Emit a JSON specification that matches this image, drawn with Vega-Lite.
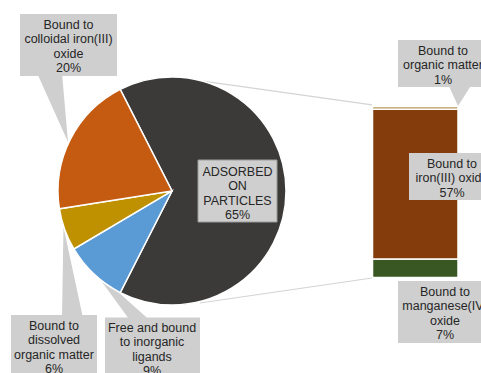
{
  "$schema": "https://vega.github.io/schema/vega-lite/v6.json",
  "width": 481,
  "height": 373,
  "autosize": {"type": "none"},
  "padding": 0,
  "background": "white",
  "config": {"view": {"stroke": null}, "axis": {"disable": true}, "legend": {"disable": true}},
  "data": {
    "values": [
      {"group": "pie", "category": "ADSORBED ON PARTICLES", "value": 65, "ord": 1},
      {"group": "pie", "category": "Free and bound to inorganic ligands", "value": 9, "ord": 2},
      {"group": "pie", "category": "Bound to dissolved organic matter", "value": 6, "ord": 3},
      {"group": "pie", "category": "Bound to colloidal iron(III) oxide", "value": 20, "ord": 4},
      {"group": "bar", "category": "Bound to manganese(IV) oxide", "value": 7, "ord": 1},
      {"group": "bar", "category": "Bound to iron(III) oxide", "value": 57, "ord": 2},
      {"group": "bar", "category": "Bound to organic matter", "value": 1, "ord": 3}
    ]
  },
  "layer": [
    {
      "data": {"values": [{}]},
      "mark": {"type": "rule", "stroke": "#d4d4d4", "strokeWidth": 1.2},
      "encoding": {
        "x": {"datum": 20.3, "scale": {"domain": [0, 48.1], "nice": false, "zero": false}},
        "y": {"datum": 74.7, "scale": {"domain": [-36.31, 105.51], "nice": false, "zero": false}},
        "x2": {"datum": 37.2},
        "y2": {"datum": 65.6}
      }
    },
    {
      "data": {"values": [{}]},
      "mark": {"type": "rule", "stroke": "#d4d4d4", "strokeWidth": 1.2},
      "encoding": {
        "x": {"datum": 20.0, "scale": {"domain": [0, 48.1], "nice": false, "zero": false}},
        "y": {"datum": -9.7, "scale": {"domain": [-36.31, 105.51], "nice": false, "zero": false}},
        "x2": {"datum": 37.2},
        "y2": {"datum": -0.2}
      }
    },
    {
      "data": {"values": [{}]},
      "mark": {"type": "point", "filled": true, "fill": "#cfcfcf", "strokeWidth": 0, "opacity": 1, "size": 4, "shape": "M-12.5,-3 L12.5,-3 L18.5,66 Z"},
      "encoding": {
        "x": {"datum": 4.95, "scale": {"domain": [0, 48.1], "nice": false, "zero": false}},
        "y": {"datum": 76.62, "scale": {"domain": [-36.31, 105.51], "nice": false, "zero": false}}
      }
    },
    {
      "data": {"values": [{}]},
      "mark": {"type": "point", "filled": true, "fill": "#cfcfcf", "strokeWidth": 0, "opacity": 1, "size": 4, "shape": "M-10.5,3 L10.5,3 L-9,-88 Z"},
      "encoding": {
        "x": {"datum": 7.25, "scale": {"domain": [0, 48.1], "nice": false, "zero": false}},
        "y": {"datum": -14.26, "scale": {"domain": [-36.31, 105.51], "nice": false, "zero": false}}
      }
    },
    {
      "data": {"values": [{}]},
      "mark": {"type": "point", "filled": true, "fill": "#cfcfcf", "strokeWidth": 0, "opacity": 1, "size": 4, "shape": "M-10,3 L10,3 L-47,-48 Z"},
      "encoding": {
        "x": {"datum": 14.0, "scale": {"domain": [0, 48.1], "nice": false, "zero": false}},
        "y": {"datum": -15.21, "scale": {"domain": [-36.31, 105.51], "nice": false, "zero": false}}
      }
    },
    {
      "data": {"values": [{}]},
      "mark": {"type": "point", "filled": true, "fill": "#cfcfcf", "strokeWidth": 0, "opacity": 1, "size": 4, "shape": "M-12,-3 L12,-3 L-2,19 Z"},
      "encoding": {
        "x": {"datum": 46.0, "scale": {"domain": [0, 48.1], "nice": false, "zero": false}},
        "y": {"datum": 72.43, "scale": {"domain": [-36.31, 105.51], "nice": false, "zero": false}}
      }
    },
    {
      "transform": [{"filter": "datum.group === 'pie'"}],
      "mark": {"type": "arc", "radius": 114, "stroke": "white", "strokeWidth": 1.5},
      "encoding": {
        "theta": {"field": "value", "type": "quantitative", "stack": true, "scale": {"range": [-0.4712, 5.8119]}},
        "order": {"field": "ord", "type": "quantitative"},
        "color": {
          "field": "category", "type": "nominal", "legend": null,
          "scale": {
            "domain": ["ADSORBED ON PARTICLES", "Free and bound to inorganic ligands", "Bound to dissolved organic matter", "Bound to colloidal iron(III) oxide", "Bound to manganese(IV) oxide", "Bound to iron(III) oxide", "Bound to organic matter"],
            "range": ["#3b3a38", "#5b9bd5", "#bf9000", "#c55a11", "#385723", "#843c0c", "#b8995a"]
          }
        },
        "x": {"datum": 17.2, "scale": {"domain": [0, 48.1], "nice": false, "zero": false}},
        "y": {"datum": 32.9, "scale": {"domain": [-36.31, 105.51], "nice": false, "zero": false}}
      }
    },
    {
      "transform": [
        {"filter": "datum.group === 'bar'"},
        {"stack": "value", "groupby": [], "sort": [{"field": "ord", "order": "ascending"}], "as": ["v0", "v1"]}
      ],
      "mark": {"type": "rect", "stroke": "white", "strokeWidth": 1.5},
      "encoding": {
        "x": {"datum": 37.25, "scale": {"domain": [0, 48.1], "nice": false, "zero": false}},
        "x2": {"datum": 45.8},
        "y": {"field": "v0", "type": "quantitative", "axis": null, "scale": {"domain": [-36.31, 105.51], "nice": false, "zero": false}},
        "y2": {"field": "v1"},
        "color": {"field": "category", "type": "nominal", "legend": null}
      }
    },
    {
      "data": {"values": [{}]},
      "mark": {"type": "rect", "fill": "#cfcfcf"},
      "encoding": {
        "x": {"datum": 2.0, "scale": {"domain": [0, 48.1], "nice": false, "zero": false}},
        "x2": {"datum": 11.7},
        "y": {"datum": 100.19, "scale": {"domain": [-36.31, 105.51], "nice": false, "zero": false}},
        "y2": {"datum": 76.62}
      }
    },
    {
      "data": {"values": [{}]},
      "mark": {"type": "rect", "fill": "#cfcfcf"},
      "encoding": {
        "x": {"datum": 1.1, "scale": {"domain": [0, 48.1], "nice": false, "zero": false}},
        "x2": {"datum": 9.7},
        "y": {"datum": -14.26, "scale": {"domain": [-36.31, 105.51], "nice": false, "zero": false}},
        "y2": {"datum": -36.31}
      }
    },
    {
      "data": {"values": [{}]},
      "mark": {"type": "rect", "fill": "#cfcfcf"},
      "encoding": {
        "x": {"datum": 10.5, "scale": {"domain": [0, 48.1], "nice": false, "zero": false}},
        "x2": {"datum": 20.0},
        "y": {"datum": -15.21, "scale": {"domain": [-36.31, 105.51], "nice": false, "zero": false}},
        "y2": {"datum": -36.31}
      }
    },
    {
      "data": {"values": [{}]},
      "mark": {"type": "rect", "fill": "#cfcfcf"},
      "encoding": {
        "x": {"datum": 39.8, "scale": {"domain": [0, 48.1], "nice": false, "zero": false}},
        "x2": {"datum": 48.1},
        "y": {"datum": 90.3, "scale": {"domain": [-36.31, 105.51], "nice": false, "zero": false}},
        "y2": {"datum": 72.43}
      }
    },
    {
      "data": {"values": [{}]},
      "mark": {"type": "rect", "fill": "#cfcfcf"},
      "encoding": {
        "x": {"datum": 40.9, "scale": {"domain": [0, 48.1], "nice": false, "zero": false}},
        "x2": {"datum": 48.1},
        "y": {"datum": 47.34, "scale": {"domain": [-36.31, 105.51], "nice": false, "zero": false}},
        "y2": {"datum": 29.47}
      }
    },
    {
      "data": {"values": [{}]},
      "mark": {"type": "rect", "fill": "#cfcfcf"},
      "encoding": {
        "x": {"datum": 39.8, "scale": {"domain": [0, 48.1], "nice": false, "zero": false}},
        "x2": {"datum": 48.1},
        "y": {"datum": -1.33, "scale": {"domain": [-36.31, 105.51], "nice": false, "zero": false}},
        "y2": {"datum": -24.9}
      }
    },
    {
      "data": {"values": [{}]},
      "mark": {"type": "rect", "fill": "#cfcfcf", "stroke": "#9a9a9a", "strokeWidth": 1},
      "encoding": {
        "x": {"datum": 19.8, "scale": {"domain": [0, 48.1], "nice": false, "zero": false}},
        "x2": {"datum": 27.7},
        "y": {"datum": 44.68, "scale": {"domain": [-36.31, 105.51], "nice": false, "zero": false}},
        "y2": {"datum": 21.1}
      }
    },
    {
      "data": {"values": [{}]},
      "mark": {"type": "text", "font": "Liberation Sans", "fontSize": 12.5, "lineHeight": 14.3, "align": "center", "baseline": "middle", "color": "#262626", "text": ["Bound to", "colloidal iron(III)", "oxide", "20%"]},
      "encoding": {
        "x": {"datum": 6.85, "scale": {"domain": [0, 48.1], "nice": false, "zero": false}},
        "y": {"datum": 96.01, "scale": {"domain": [-36.31, 105.51], "nice": false, "zero": false}}
      }
    },
    {
      "data": {"values": [{}]},
      "mark": {"type": "text", "font": "Liberation Sans", "fontSize": 12.5, "lineHeight": 14.3, "align": "center", "baseline": "middle", "color": "#262626", "text": ["Bound to", "dissolved", "organic matter", "6%"]},
      "encoding": {
        "x": {"datum": 5.4, "scale": {"domain": [0, 48.1], "nice": false, "zero": false}},
        "y": {"datum": -18.44, "scale": {"domain": [-36.31, 105.51], "nice": false, "zero": false}}
      }
    },
    {
      "data": {"values": [{}]},
      "mark": {"type": "text", "font": "Liberation Sans", "fontSize": 12.5, "lineHeight": 14.3, "align": "center", "baseline": "middle", "color": "#262626", "text": ["Free and bound", "to inorganic", "ligands", "9%"]},
      "encoding": {
        "x": {"datum": 15.2, "scale": {"domain": [0, 48.1], "nice": false, "zero": false}},
        "y": {"datum": -19.2, "scale": {"domain": [-36.31, 105.51], "nice": false, "zero": false}}
      }
    },
    {
      "data": {"values": [{}]},
      "mark": {"type": "text", "font": "Liberation Sans", "fontSize": 12.5, "lineHeight": 14.3, "align": "center", "baseline": "middle", "color": "#262626", "text": ["Bound to", "organic matter", "1%"]},
      "encoding": {
        "x": {"datum": 44.3, "scale": {"domain": [0, 48.1], "nice": false, "zero": false}},
        "y": {"datum": 86.12, "scale": {"domain": [-36.31, 105.51], "nice": false, "zero": false}}
      }
    },
    {
      "data": {"values": [{}]},
      "mark": {"type": "text", "font": "Liberation Sans", "fontSize": 12.5, "lineHeight": 14.3, "align": "center", "baseline": "middle", "color": "#262626", "text": ["Bound to", "iron(III) oxide", "57%"]},
      "encoding": {
        "x": {"datum": 45.2, "scale": {"domain": [0, 48.1], "nice": false, "zero": false}},
        "y": {"datum": 43.16, "scale": {"domain": [-36.31, 105.51], "nice": false, "zero": false}}
      }
    },
    {
      "data": {"values": [{}]},
      "mark": {"type": "text", "font": "Liberation Sans", "fontSize": 12.5, "lineHeight": 14.3, "align": "center", "baseline": "middle", "color": "#262626", "text": ["Bound to", "manganese(IV)", "oxide", "7%"]},
      "encoding": {
        "x": {"datum": 44.5, "scale": {"domain": [0, 48.1], "nice": false, "zero": false}},
        "y": {"datum": -5.51, "scale": {"domain": [-36.31, 105.51], "nice": false, "zero": false}}
      }
    },
    {
      "data": {"values": [{}]},
      "mark": {"type": "text", "font": "Liberation Sans", "fontSize": 12.5, "lineHeight": 14.3, "align": "center", "baseline": "middle", "color": "#262626", "text": ["ADSORBED", "ON", "PARTICLES", "65%"]},
      "encoding": {
        "x": {"datum": 23.75, "scale": {"domain": [0, 48.1], "nice": false, "zero": false}},
        "y": {"datum": 40.11, "scale": {"domain": [-36.31, 105.51], "nice": false, "zero": false}}
      }
    }
  ]
}
